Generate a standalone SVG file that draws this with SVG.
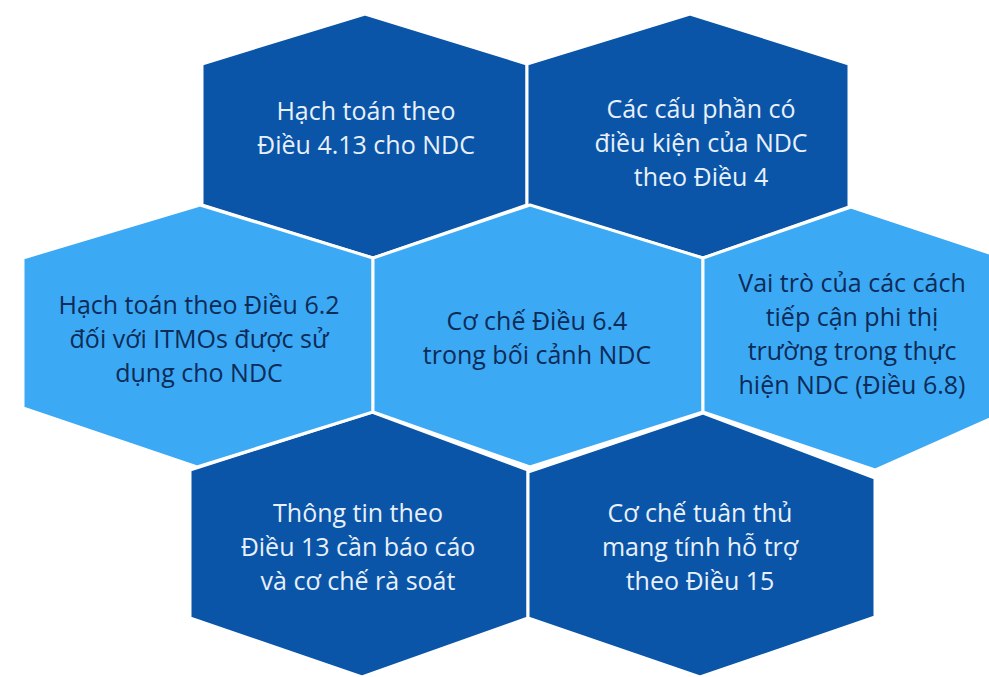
<svg xmlns="http://www.w3.org/2000/svg" width="989" height="677" viewBox="0 0 989 677">
<style>
.dark{fill:#0a55a8;stroke:#ffffff;stroke-width:3;stroke-linejoin:round}
.light{fill:#3ca9f5;stroke:#ffffff;stroke-width:3;stroke-linejoin:round}
.tw{font-family:"Open Sans","Noto Sans",sans-serif;font-size:25px;fill:#e8f0fa;text-anchor:middle}
.tb{font-family:"Open Sans","Noto Sans",sans-serif;font-size:25px;fill:#0d2b57;text-anchor:middle}
</style>
<rect width="989" height="677" fill="#ffffff"/>
<g id="connectors"></g>
<g id="n1">
<polygon class="dark" points="365,14 527,64 527,205 373,258 202,205 202,64"/>
<text class="tw" x="366" y="120">Hạch toán theo</text>
<text class="tw" x="366" y="154">Điều 4.13 cho NDC</text>
</g>
<g id="n2">
<polygon class="dark" points="690,14 849,64 849,207 703,258 527,205 527,64"/>
<text class="tw" x="701" y="118">Các cấu phần có</text>
<text class="tw" x="701" y="152">điều kiện của NDC</text>
<text class="tw" x="701" y="186">theo Điều 4</text>
</g>
<g id="n6">
<polygon class="dark" points="372,412 528,470 528,618 362,677 190,618 190,470"/>
<text class="tw" x="358" y="522">Thông tin theo</text>
<text class="tw" x="358" y="556">Điều 13 cần báo cáo</text>
<text class="tw" x="358" y="590">và cơ chế rà soát</text>
</g>
<g id="n7">
<polygon class="dark" points="703,413 875,478 875,617 700,677 528,618 528,472"/>
<text class="tw" x="700" y="522">Cơ chế tuân thủ</text>
<text class="tw" x="700" y="556">mang tính hỗ trợ</text>
<text class="tw" x="700" y="590">theo Điều 15</text>
</g>
<g id="n3">
<polygon class="light" points="200,205 373,258 373,412 197,467 23,408 23,258"/>
<text class="tb" x="199" y="314">Hạch toán theo Điều 6.2</text>
<text class="tb" x="199" y="348">đối với ITMOs được sử</text>
<text class="tb" x="199" y="382">dụng cho NDC</text>
</g>
<g id="n4">
<polygon class="light" points="530,205 703,258 703,412 530,467 373,412 373,258"/>
<text class="tb" x="537" y="330">Cơ chế Điều 6.4</text>
<text class="tb" x="537" y="364">trong bối cảnh NDC</text>
</g>
<g id="n5">
<polygon class="light" points="851,207 1010,260 1010,410 875,470 703,412 703,258"/>
<text class="tb" x="852" y="292">Vai trò của các cách</text>
<text class="tb" x="852" y="326">tiếp cận phi thị</text>
<text class="tb" x="852" y="360">trường trong thực</text>
<text class="tb" x="852" y="394">hiện NDC (Điều 6.8)</text>
</g>
</svg>
